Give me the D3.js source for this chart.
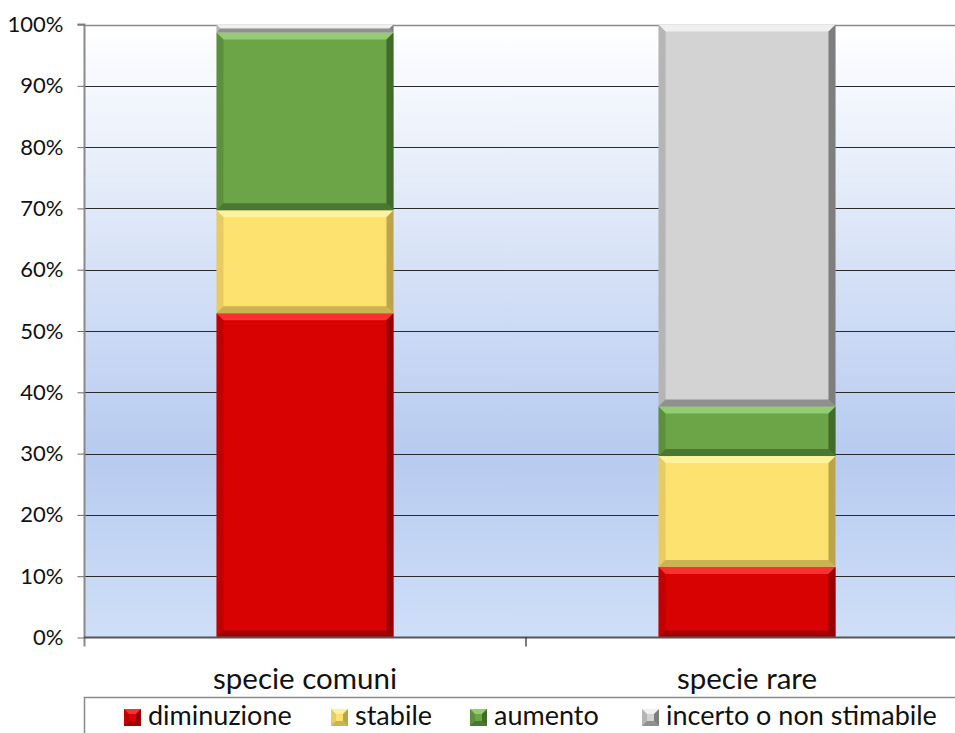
<!DOCTYPE html>
<html>
<head>
<meta charset="utf-8">
<script src="https://cdn.jsdelivr.net/npm/d3@7"></script>
<style>
  html, body { margin: 0; padding: 0; background: #ffffff; }
  svg { display: block; font-family: Lato, "Open Sans", sans-serif; }
</style>
</head>
<body>
<svg id="chart" width="955" height="733"></svg>
<script>
// Categories and series (percentages of species per trend class)
const categories = ["specie comuni", "specie rare"];
const seriesNames = ["diminuzione", "stabile", "aumento", "incerto o non stimabile"];
const diminuzione = [52.9, 11.5];
const stabile = [16.8, 18.1];
const aumento = [29.0, 8.1];
const incerto = [1.3, 62.3];
const yTicks = [0, 10, 20, 30, 40, 50, 60, 70, 80, 90, 100];

const colors = {
  "diminuzione": { base: "#d90202", light: "#ff3a3a", dark: "#7a0000" },
  "stabile": { base: "#fee26f", light: "#fff4a8", dark: "#a08a3a" },
  "aumento": { base: "#6ba547", light: "#9bd27a", dark: "#2f5220" },
  "incerto o non stimabile": { base: "#d3d3d3", light: "#f4f4f4", dark: "#5a5a5a" }
};

const svg = d3.select("#chart");
const margin = { left: 84, top: 24.5, right: 0, bottom: 95.5 };
const W = 955, H = 733;
const plotH = H - margin.top - margin.bottom;

const rows = categories.map((c, i) => ({
  category: c,
  "diminuzione": diminuzione[i],
  "stabile": stabile[i],
  "aumento": aumento[i],
  "incerto o non stimabile": incerto[i]
}));
const stacked = d3.stack().keys(seriesNames)(rows);

// Two categories spanning the full category axis
const xBand = d3.scaleBand().domain(categories).range([margin.left, margin.left + 884]);
const y = d3.scaleLinear().domain([0, 100]).range([margin.top + plotH, margin.top]);

// Plot background gradient
const defs = svg.append("defs");
const bg = defs.append("linearGradient").attr("id", "bg").attr("x1", 0).attr("y1", 0).attr("x2", 0).attr("y2", 1);
bg.append("stop").attr("offset", "0%").attr("stop-color", "#ffffff");
bg.append("stop").attr("offset", "70%").attr("stop-color", "#b7cbf0");
bg.append("stop").attr("offset", "100%").attr("stop-color", "#cfdff7");

svg.append("rect")
  .attr("x", margin.left).attr("y", y(100))
  .attr("width", W - margin.left).attr("height", y(0) - y(100))
  .attr("fill", "url(#bg)");

// Gridlines
svg.append("g")
  .selectAll("line")
  .data(yTicks.filter(t => t > 0 && t < 100))
  .join("line")
  .attr("x1", margin.left).attr("x2", W)
  .attr("y1", d => Math.round(y(d)) + 0.5).attr("y2", d => Math.round(y(d)) + 0.5)
  .attr("stroke", "#2a2a2a").attr("stroke-width", 1);
svg.append("line")
  .attr("x1", margin.left).attr("x2", W)
  .attr("y1", Math.round(y(100)) + 0.5).attr("y2", Math.round(y(100)) + 0.5)
  .attr("stroke", "#8a8a8a").attr("stroke-width", 1.5);

// Bars with bevelled edges
const barW = 177;
const bev = 7;
function drawBevelRect(g, x0, y0, w, h, c, b) {
  b = Math.min(b, h / 2, w / 2);
  const x1 = x0 + w, y1 = y0 + h;
  g.append("rect").attr("x", x0).attr("y", y0).attr("width", w).attr("height", h).attr("fill", c.base);
  g.append("polygon").attr("points", [[x0, y0], [x1, y0], [x1 - b, y0 + b], [x0 + b, y0 + b]].join(" "))
    .attr("fill", c.light).attr("opacity", 0.85);
  g.append("polygon").attr("points", [[x0, y1], [x1, y1], [x1 - b, y1 - b], [x0 + b, y1 - b]].join(" "))
    .attr("fill", c.dark).attr("opacity", 0.55);
  g.append("polygon").attr("points", [[x0, y0], [x0 + b, y0 + b], [x0 + b, y1 - b], [x0, y1]].join(" "))
    .attr("fill", c.dark).attr("opacity", 0.25);
  g.append("polygon").attr("points", [[x1, y0], [x1 - b, y0 + b], [x1 - b, y1 - b], [x1, y1]].join(" "))
    .attr("fill", c.dark).attr("opacity", 0.7);
}

const barsG = svg.append("g");
stacked.forEach(layer => {
  const c = colors[layer.key];
  layer.forEach((d, i) => {
    const cx = xBand(categories[i]) + xBand.bandwidth() / 2;
    const yTop = y(d[1]), yBot = y(d[0]);
    drawBevelRect(barsG, cx - barW / 2, yTop, barW, yBot - yTop, c, bev);
  });
});

// Y axis
const yAxis = d3.axisLeft(y).tickValues(yTicks).tickFormat(d => d + "%").tickSize(7).tickPadding(14);
const yG = svg.append("g").attr("transform", `translate(${margin.left + 0.5},0)`).call(yAxis);
yG.select(".domain").attr("stroke", "#8a8a8a").attr("stroke-width", 2).attr("d", `M-7,${y(100)}H0V${y(0) + 9}`);
yG.selectAll(".tick line").attr("stroke", "#6a6a6a");
yG.selectAll(".tick text").attr("font-size", 22).attr("fill", "#111").attr("font-family", "Lato, sans-serif");

// X axis
const xAxis = d3.axisBottom(xBand).tickSize(0).tickPadding(0);
const xG = svg.append("g").attr("transform", `translate(0,${y(0)})`).call(xAxis);
xG.select(".domain").attr("stroke", "#555").attr("stroke-width", 2).attr("d", `M${margin.left},0H${W}`);
xG.selectAll(".tick text").attr("font-size", 29.5).attr("fill", "#111")
  .attr("dy", null).attr("y", 51).attr("font-family", "Lato, sans-serif");
// Category separator tick
svg.append("line")
  .attr("x1", xBand.range()[0] + xBand.bandwidth()).attr("x2", xBand.range()[0] + xBand.bandwidth())
  .attr("y1", y(0)).attr("y2", y(0) + 9).attr("stroke", "#333").attr("stroke-width", 1.3);

// Legend
const legendTop = 697;
svg.append("path").attr("d", `M${margin.left + 0.5},${H}V${legendTop + 0.5}H${W}`)
  .attr("fill", "none").attr("stroke", "#8a8a8a").attr("stroke-width", 1.5);
const legendX = [124, 331, 470, 642];
const lg = svg.append("g");
seriesNames.forEach((name, i) => {
  const g = lg.append("g");
  drawBevelRect(g, legendX[i], 709, 17, 17, colors[name], 5);
  g.append("text").attr("x", legendX[i] + 24).attr("y", 725)
    .attr("font-size", 27).attr("fill", "#111").attr("font-family", "Lato, sans-serif")
    .text(name);
});
</script>
</body>
</html>
